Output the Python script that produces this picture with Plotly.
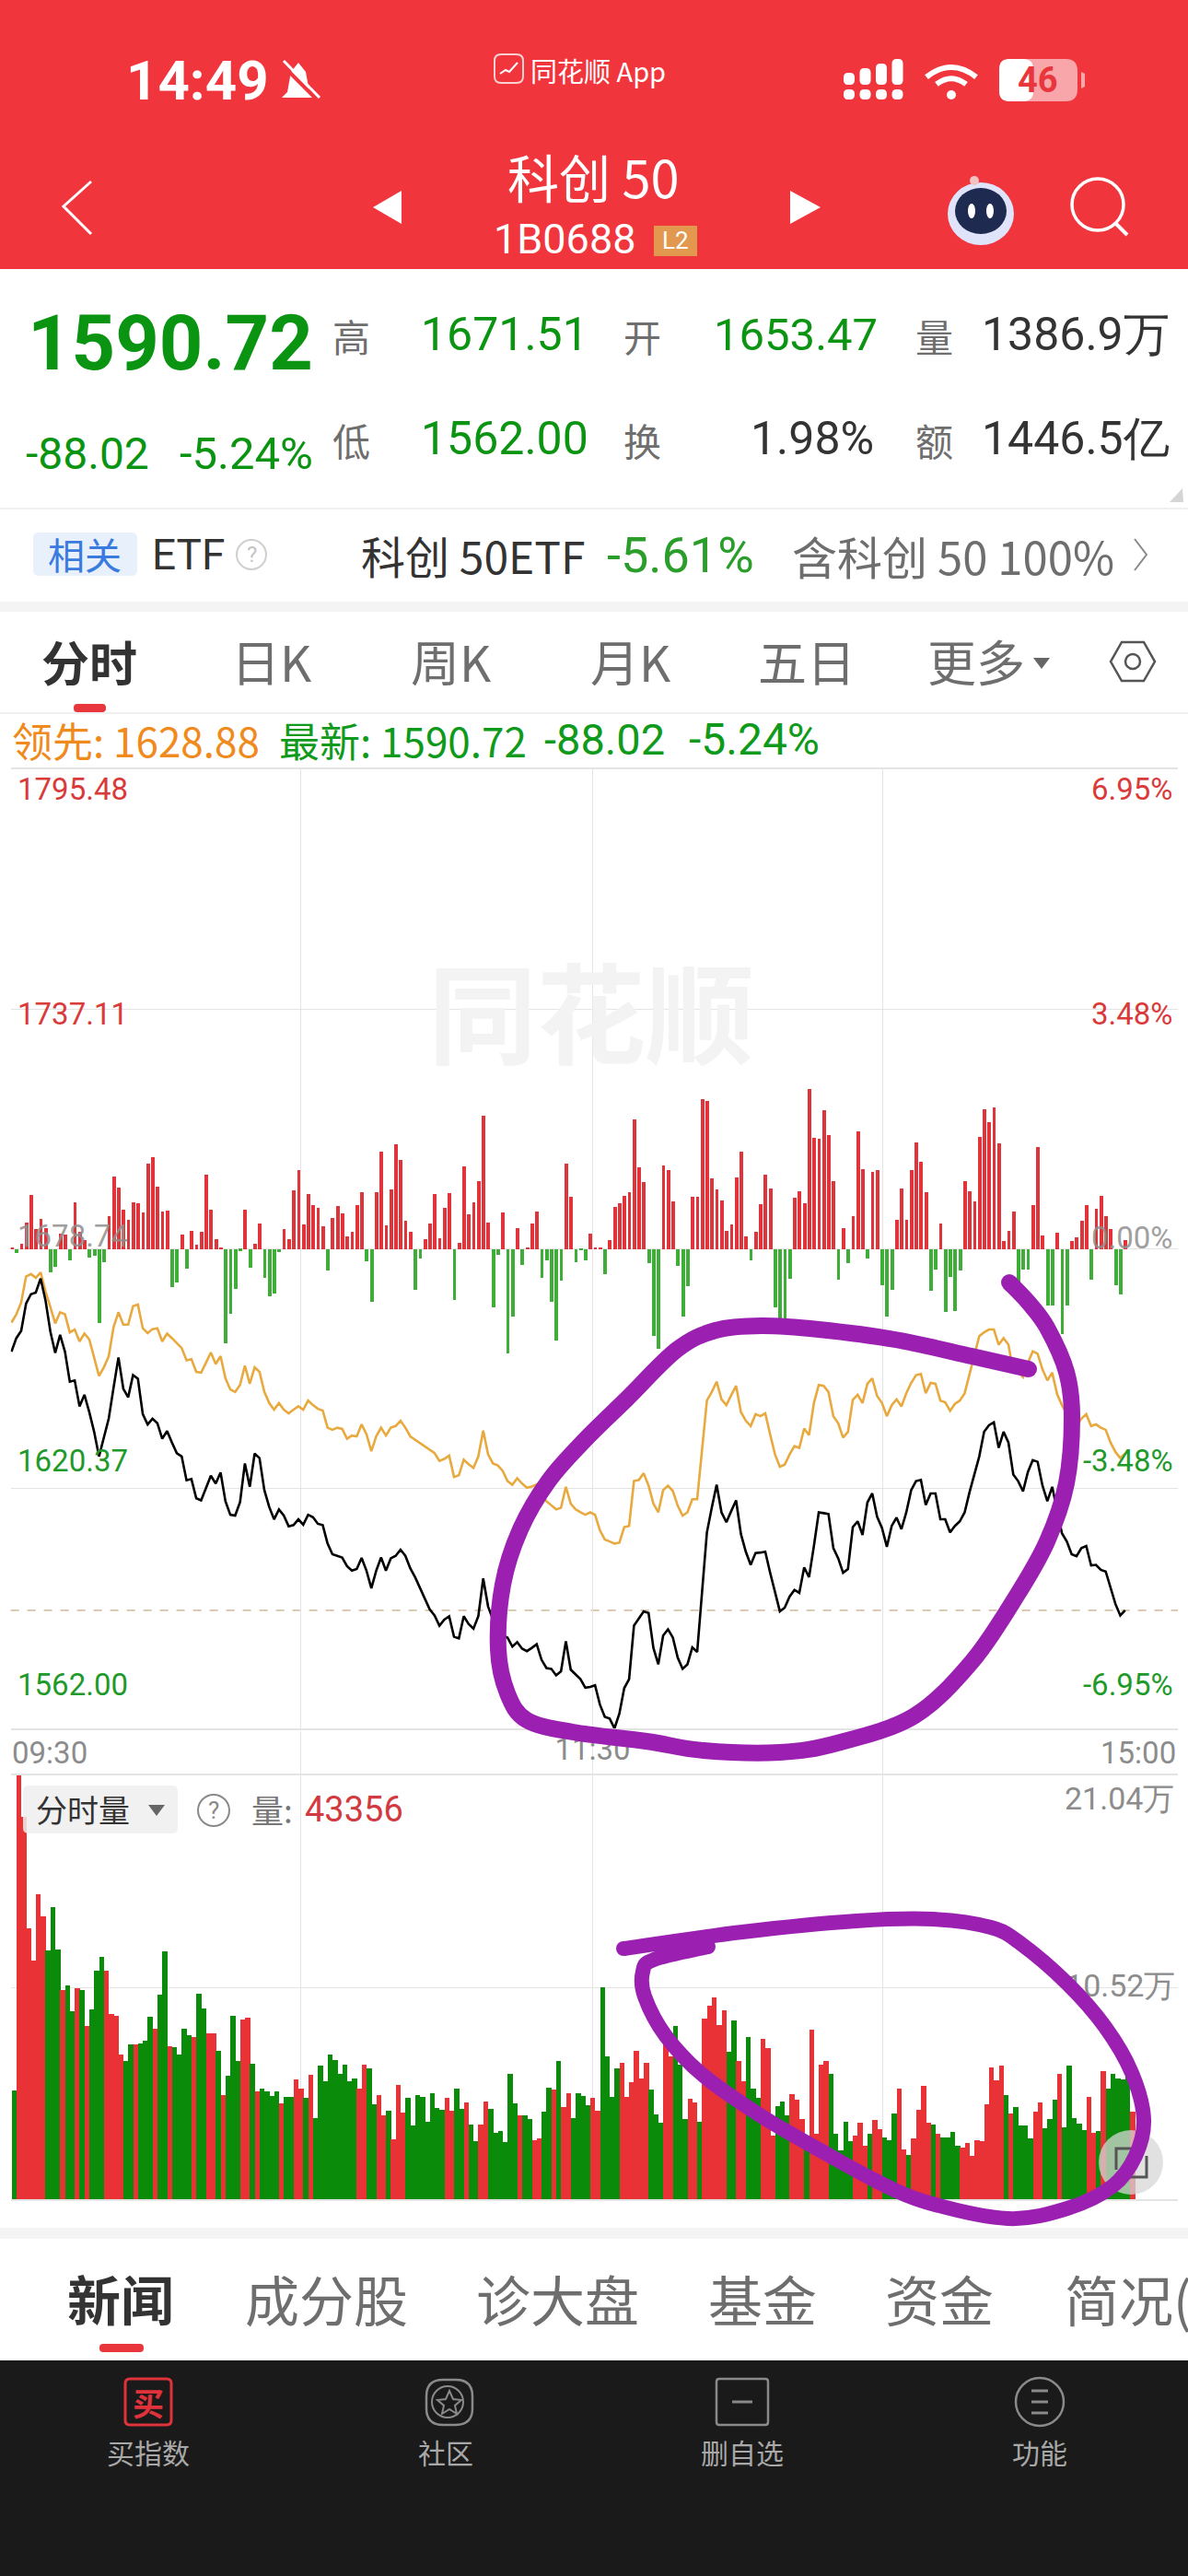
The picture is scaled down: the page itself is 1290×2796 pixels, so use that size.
import plotly.graph_objects as go

# ---- data ----
close_price = [1653.7,1657.0,1658.8,1665.4,1667.7,1668.1,1671.5,1666.2,1658.6,1653.4,1657.8,1653.7,1646.4,1646.7,1640.4,1643.2,1639.0,1634.2,1628.2,1632.5,
1637.4,1645.0,1652.3,1644.7,1642.6,1648.0,1647.1,1638.5,1636.0,1637.4,1636.3,1632.5,1634.4,1631.6,1629.0,1628.2,1622.4,1622.7,1618.0,1617.5,
1620.6,1623.5,1621.6,1624.3,1617.3,1614.0,1613.8,1617.1,1626.5,1620.8,1628.9,1627.8,1620.0,1615.9,1612.9,1615.3,1613.8,1611.2,1611.5,1612.9,
1611.6,1614.0,1613.4,1611.8,1611.5,1607.0,1604.4,1604.0,1603.6,1601.5,1600.4,1600.8,1603.5,1600.4,1596.1,1600.4,1603.6,1600.4,1603.4,1604.0,
1605.5,1604.0,1601.0,1598.8,1596.1,1593.6,1591.0,1589.5,1587.0,1588.5,1589.3,1584.3,1583.9,1589.3,1587.4,1586.3,1589.3,1598.5,1591.7,1588.5,
1585.7,1584.6,1584.1,1581.9,1583.0,1581.4,1580.8,1581.6,1582.5,1578.7,1576.7,1576.5,1574.9,1575.9,1583.2,1576.3,1575.1,1574.0,1571.9,1572.1,
1572.5,1567.8,1564.8,1564.4,1562.0,1565.6,1571.8,1574.0,1587.0,1588.8,1590.5,1590.1,1581.6,1577.6,1584.6,1586.1,1584.1,1579.2,1576.5,1577.6,
1581.7,1580.6,1595.5,1609.7,1615.7,1621.3,1614.6,1612.2,1614.9,1617.5,1609.3,1605.0,1601.8,1604.7,1604.8,1605.0,1599.9,1595.0,1590.5,1591.4,
1594.1,1595.7,1595.0,1601.2,1598.8,1606.4,1614.6,1614.4,1614.2,1605.9,1603.4,1599.9,1600.8,1611.0,1612.4,1609.1,1617.0,1619.2,1613.5,1610.8,
1606.2,1611.3,1613.3,1610.5,1614.6,1620.0,1622.2,1622.5,1616.4,1619.2,1619.2,1612.9,1612.9,1609.7,1611.3,1612.4,1614.6,1619.5,1623.8,1628.2,
1634.2,1635.8,1636.5,1630.3,1634.2,1631.6,1623.8,1622.2,1619.7,1624.4,1627.3,1626.9,1621.1,1617.3,1620.8,1615.1,1609.5,1607.5,1604.4,1603.9,
1605.9,1606.4,1601.7,1601.8,1600.6,1600.2,1596.1,1592.3,1589.5,1590.72]

lead_price = [1660.8,1662.8,1665.7,1672.0,1672.6,1671.7,1673.0,1668.4,1664.6,1660.6,1663.3,1662.8,1658.4,1659.1,1656.2,1658.1,1656.7,1652.1,1647.8,1649.9,
1652.6,1659.7,1663.3,1660.3,1660.3,1664.8,1665.2,1659.4,1658.2,1659.2,1659.4,1656.2,1658.1,1657.0,1655.7,1654.6,1651.6,1651.9,1648.8,1648.6,
1651.0,1653.5,1650.7,1652.6,1647.2,1644.5,1643.9,1645.6,1650.3,1645.9,1649.9,1648.8,1643.9,1641.2,1639.6,1641.2,1639.6,1638.7,1639.6,1640.4,
1639.6,1641.8,1640.7,1639.8,1639.4,1635.2,1634.7,1635.2,1634.9,1632.5,1633.3,1633.1,1636.0,1633.6,1629.5,1633.1,1635.2,1633.3,1635.2,1635.6,
1636.9,1635.2,1633.1,1632.3,1631.4,1630.6,1629.8,1629.0,1627.1,1627.6,1628.4,1623.2,1623.6,1627.4,1626.3,1625.4,1628.2,1634.5,1628.7,1626.5,
1626.0,1624.7,1622.2,1621.3,1622.9,1621.6,1620.6,1620.9,1621.4,1618.9,1617.3,1616.2,1615.3,1615.7,1620.8,1616.7,1615.3,1614.6,1614.0,1614.6,
1614.0,1610.2,1608.0,1607.5,1607.0,1607.2,1611.0,1611.3,1622.2,1622.5,1624.1,1621.1,1616.7,1614.6,1620.0,1621.1,1619.8,1616.2,1613.8,1614.6,
1617.8,1617.8,1629.8,1641.8,1643.9,1646.4,1642.1,1640.7,1643.1,1645.4,1639.0,1636.9,1635.6,1638.5,1638.0,1638.7,1633.6,1628.7,1625.7,1626.2,
1628.7,1630.7,1630.3,1635.0,1633.4,1641.2,1645.6,1645.4,1643.9,1638.0,1636.3,1632.8,1634.2,1642.0,1643.2,1641.2,1645.9,1647.2,1642.9,1641.2,
1638.0,1640.7,1642.1,1640.4,1643.6,1646.1,1648.0,1648.3,1643.6,1646.1,1645.9,1641.8,1641.4,1639.3,1641.0,1641.8,1643.6,1648.3,1653.2,1657.5,
1658.4,1659.1,1659.1,1655.4,1657.0,1655.4,1648.8,1648.8,1647.5,1651.0,1653.8,1653.2,1649.4,1646.7,1648.6,1643.4,1640.7,1638.5,1635.8,1635.6,
1637.4,1638.5,1635.6,1636.0,1635.2,1634.7,1631.6,1629.3,1627.8,1628.88]

net_flow = [3,-8,12,60,122,45,68,48,-52,-40,35,32,-25,105,40,20,-18,-15,-165,-28,
75,162,138,88,65,105,103,82,192,206,140,85,87,-85,-75,33,-43,42,10,40,
167,88,22,5,-210,-145,-88,-4,88,-42,12,57,-65,-105,-100,-6,45,22,133,177,
55,123,98,93,52,-48,70,97,80,29,40,98,127,-26,-118,128,218,53,135,235,
200,63,40,-90,-20,22,58,123,25,92,125,-113,15,185,78,105,152,300,59,-130,
-12,82,-233,-150,48,-35,5,57,85,-63,-25,-118,-205,-70,192,118,-28,-3,-25,35,
3,3,-55,20,95,103,120,128,290,183,150,-30,-195,-222,187,177,108,-38,-150,-82,
118,118,337,333,158,135,110,42,55,160,218,28,-25,40,102,167,137,-130,-175,-170,
-67,115,130,103,360,250,248,312,255,153,-68,47,-30,75,265,180,-20,173,178,-80,
-150,-90,67,137,67,177,240,197,127,-92,-45,57,-140,-62,-138,-48,153,130,107,252,
313,285,317,237,18,42,85,-112,-45,-45,100,230,30,-125,-125,38,-190,-125,18,27,
63,100,-68,90,120,75,45,-80,-102,20]

volume_wan = [5.39,21.04,18.98,13.43,11.84,15.15,14.02,12.33,14.52,12.41,10.38,10.61,9.32,10.49,10.38,8.60,9.42,11.36,12.03,11.36,
9.20,9.09,7.19,6.88,7.67,7.67,7.72,7.87,9.04,8.48,10.15,12.29,7.61,7.55,7.16,8.48,8.14,8.07,10.20,9.47,
8.25,8.25,7.38,5.15,6.12,9.09,6.85,8.94,9.01,6.73,5.33,5.48,5.36,5.13,5.33,4.75,5.10,5.10,5.94,5.51,
5.05,6.17,4.02,6.64,5.85,7.19,6.91,6.24,6.67,5.85,5.97,5.48,6.70,6.50,4.70,5.15,4.14,4.37,2.97,5.69,
4.29,5.02,3.68,5.15,5.10,3.84,5.24,4.52,4.45,5.01,4.37,5.50,4.48,4.81,3.71,2.89,3.71,4.86,4.48,3.30,
3.38,2.85,6.20,4.75,4.14,4.17,3.96,2.95,3.04,4.35,5.54,5.43,6.87,4.57,5.24,4.03,5.28,5.13,4.67,5.04,
4.37,10.54,7.08,5.08,6.50,6.76,5.08,5.79,7.37,6.01,6.76,5.45,4.23,3.81,7.69,7.11,8.59,6.70,3.99,4.98,
4.80,3.84,8.98,9.62,10.00,8.63,9.39,7.34,8.86,6.85,5.85,8.05,5.47,5.05,7.95,7.52,3.15,4.63,4.84,4.14,
5.21,4.93,3.99,3.15,8.43,3.23,6.70,6.88,6.24,3.26,2.42,3.84,2.88,3.15,3.81,2.65,3.26,3.93,3.46,3.08,
2.92,4.26,5.51,2.47,2.19,3.04,4.45,5.63,3.81,3.71,3.23,3.08,3.08,3.33,2.65,2.54,2.80,2.16,2.92,2.89,
4.72,6.53,5.89,6.61,5.18,4.26,4.57,3.65,3.65,3.04,4.35,4.78,3.53,3.96,4.93,6.23,3.59,6.61,4.02,3.75,
3.44,5.10,3.30,3.38,6.38,5.48,6.23,6.00,5.94,6.35,4.35]

volume_dir = ("G RRRRRR GGG R GG R G R GGG RRRR GG R GGG R GG R GGGG R GG RR G R GGG RR G R GGGG R GG RR G R "
              "GGGGGGGGG RR GG RR G RRR GGGGGGGG RR GG R GG RR GGGGGG R GG RR GG R G RR GGGG RR GGGG RRRRRR GGG RR GGG RR G "
              "RRRRR GG RR GGG RRR GGG RRR G RRRR GGGGG RRR G RR GGG RR G RRRR G R GGGG RRRRRRRRR G R GGGG RR GGG R GGGGG RR G R GGGGG R").replace(" ", "")

price_ticks_left = ["1795.48", "1737.11", "1678.74", "1620.37", "1562.00"]
price_ticks_right = ["6.95%", "3.48%", "0.00%", "-3.48%", "-6.95%"]
price_tick_vals = [1795.48, 1737.11, 1678.74, 1620.37, 1562.00]
time_labels = ["09:30", "11:30", "15:00"]
vol_labels = ["21.04万", "10.52万"]

# ---- canvas helpers (pixels on the 1290x2796 page) ----
W, H = 1290, 2796
CJK = "Noto Sans CJK SC"
NUM = "Roboto"
RED, TXT, GRY = "#e8363c", "#333333", "#6e6e6e"
fx = lambda x: x / W
fy = lambda y: 1 - y / H
shapes, notes = [], []

def text(x, y, s, size, color, anchor="left", family=CJK, bold=False, opacity=1):
    notes.append(dict(x=fx(x), y=fy(y), xref="paper", yref="paper", text=f"<b>{s}</b>" if bold else s,
                      showarrow=False, xanchor=anchor, yanchor="middle", borderpad=0, opacity=opacity,
                      font=dict(size=size, color=color, family=family)))

def rect(x0, y0, x1, y1, fill, line=None, lw=0, layer="below"):
    shapes.append(dict(type="rect", xref="paper", yref="paper", x0=fx(x0), x1=fx(x1), y0=fy(y0), y1=fy(y1),
                       fillcolor=fill, line=dict(color=line or fill, width=lw), layer=layer))

def oval(cx, cy, rx, ry, fill="rgba(0,0,0,0)", line=None, lw=0, layer="above", opacity=1):
    shapes.append(dict(type="circle", xref="paper", yref="paper", x0=fx(cx-rx), x1=fx(cx+rx), y0=fy(cy-ry), y1=fy(cy+ry),
                       fillcolor=fill, line=dict(color=line or "rgba(0,0,0,0)", width=lw), layer=layer, opacity=opacity))

def poly(pts, fill=None, line=None, lw=0, closed=False, layer="above"):
    d = "M" + " L".join(f"{fx(x):.5f},{fy(y):.5f}" for x, y in pts) + (" Z" if closed else "")
    shapes.append(dict(type="path", xref="paper", yref="paper", path=d, fillcolor=fill or "rgba(0,0,0,0)",
                       line=dict(color=line or "rgba(0,0,0,0)", width=lw), layer=layer))

def rrect(x0, y0, x1, y1, r, fill=None, line=None, lw=0, layer="below"):
    c = lambda x, y: f"{fx(x):.5f},{fy(y):.5f}"
    d = (f"M{c(x0+r,y0)} L{c(x1-r,y0)} Q{c(x1,y0)} {c(x1,y0+r)} L{c(x1,y1-r)} Q{c(x1,y1)} {c(x1-r,y1)} "
         f"L{c(x0+r,y1)} Q{c(x0,y1)} {c(x0,y1-r)} L{c(x0,y0+r)} Q{c(x0,y0)} {c(x0+r,y0)} Z")
    shapes.append(dict(type="path", xref="paper", yref="paper", path=d, fillcolor=fill or "rgba(0,0,0,0)",
                       line=dict(color=line or "rgba(0,0,0,0)", width=lw), layer=layer))

def stroke(pts, color, lw):
    c = lambda p: f"{fx(p[0]):.5f},{fy(p[1]):.5f}"
    d = "M" + c(pts[0])
    for i in range(len(pts) - 1):
        p0, p1, p2, p3 = pts[max(i-1, 0)], pts[i], pts[i+1], pts[min(i+2, len(pts)-1)]
        a = (p1[0] + (p2[0]-p0[0])/6, p1[1] + (p2[1]-p0[1])/6)
        b = (p2[0] - (p3[0]-p1[0])/6, p2[1] - (p3[1]-p1[1])/6)
        d += f" C{c(a)} {c(b)} {c(p2)}"
    shapes.append(dict(type="path", xref="paper", yref="paper", path=d, fillcolor="rgba(0,0,0,0)",
                       line=dict(color=color, width=lw), layer="above"))
    for p in (pts[0], pts[-1]):
        oval(p[0], p[1], lw/2, lw/2, fill=color)

# ---- chart frame in pixels ----
X0, X1 = 11.6, 1279
PT, PB, VT, VB = 835, 1876, 1927, 2387

fig = go.Figure()
xs = list(range(len(close_price)))
fig.add_trace(go.Bar(x=list(range(len(net_flow))), y=net_flow, xaxis="x", yaxis="y2", width=0.72,
                     marker=dict(color=["#e0343a" if v > 0 else "#3fae38" for v in net_flow], line_width=0), showlegend=False))
fig.add_trace(go.Scatter(x=xs, y=lead_price, mode="lines", xaxis="x", yaxis="y", line=dict(color="#e8a93f", width=2.6), showlegend=False))
fig.add_trace(go.Scatter(x=xs, y=close_price, mode="lines", xaxis="x", yaxis="y", line=dict(color="#000000", width=2.6), showlegend=False))
fig.add_trace(go.Bar(x=list(range(len(volume_wan))), y=volume_wan, xaxis="x2", yaxis="y3", width=1.04,
                     marker=dict(color=["#e83236" if d == "R" else "#0a8c0a" for d in volume_dir], line_width=0), showlegend=False))
# labels that the purple pen runs over: text traces sit under the upper shape layer
fig.add_trace(go.Scatter(x=[119.5], y=[0.5], mode="text", text=[time_labels[1]], xaxis="x", yaxis="y4", cliponaxis=False,
                         textposition="middle center", textfont=dict(size=33, color="#8c8c8c", family=NUM), showlegend=False))
fig.add_trace(go.Scatter(x=[238.9], y=[10.43], mode="text", text=[vol_labels[1]], xaxis="x2", yaxis="y3", cliponaxis=False,
                         textposition="middle left", textfont=dict(size=34, color="#8c8c8c", family=NUM), showlegend=False))

grid = "#e4e4e4"
base_x = dict(showticklabels=False, ticks="", showgrid=True, gridcolor=grid, gridwidth=1, showline=True, linecolor=grid,
              linewidth=1.5, mirror=True, zeroline=False, domain=[fx(X0), fx(X1)])
fig.update_layout(
    width=W, height=H, margin=dict(l=0, r=0, t=0, b=0), paper_bgcolor="#ffffff", plot_bgcolor="rgba(0,0,0,0)",
    bargap=0, barmode="overlay", hovermode=False,
    xaxis=dict(base_x, range=[-0.16, 239.84], tickvals=[59.46, 119.46, 179.2], anchor="y"),
    yaxis=dict(domain=[fy(PB), fy(PT)], range=[1562.0, 1795.48], tickvals=price_tick_vals, showticklabels=False, ticks="",
               showgrid=True, gridcolor=grid, showline=False, zeroline=False, anchor="x"),
    yaxis2=dict(domain=[fy(PB), fy(PT)], range=[-1073, 1075], overlaying="y", showticklabels=False, ticks="",
                showgrid=False, zeroline=False, anchor="x"),
    xaxis2=dict(base_x, range=[-0.62, 239.38], tickvals=[59.0, 119.0, 178.74], anchor="y3"),
    yaxis3=dict(domain=[fy(VB), fy(VT)], range=[0, 21.04], tickvals=[10.52], showticklabels=False, ticks="",
                showgrid=True, gridcolor=grid, showline=False, zeroline=False, anchor="x2"),
    yaxis4=dict(domain=[fy(1925), fy(1879)], range=[0, 1], visible=False, anchor="x"),
)

# last price dashed reference
fig.add_shape(type="line", xref="x domain", yref="y", x0=0, x1=1, y0=close_price[-1], y1=close_price[-1],
              line=dict(color="#c9ab86", width=1.2, dash="dash"), layer="below")

# ---- header ----
rect(0, 0, W, 292, "#f0353d")
text(136, 87, "14:49", 60, "#ffffff", family=NUM, bold=True)
# bell
poly([(312, 100), (316, 78), (324, 68), (332, 78), (336, 100), (342, 106), (306, 106)], fill="#ffffff", closed=True)
poly([(304, 68), (346, 110)], line="#f0353d", lw=4)
poly([(308, 66), (347, 106)], line="#ffffff", lw=3)
rrect(537, 59, 568, 90, 7, fill="#f0353d", line="#fbd0d0", lw=2, layer="above")
poly([(543, 80), (549, 76), (553, 78), (562, 68)], line="#ffffff", lw=2)
text(575, 76, "同花顺 App", 29, "#ffffff")
for i, top in enumerate([79, 74, 69, 64]):
    bx = 922 + i * 17.5
    rrect(bx - 6, top, bx + 6, 92, 5, fill="#ffffff", layer="above")
    rrect(bx - 6, 97, bx + 6, 108, 5, fill="#ffffff", layer="above")
oval(1033, 103, 5, 5, fill="#ffffff")
for r in (16, 27):
    c = lambda x, y: f"{fx(x):.5f},{fy(y):.5f}"
    shapes.append(dict(type="path", xref="paper", yref="paper", layer="above", fillcolor="rgba(0,0,0,0)",
                       line=dict(color="#ffffff", width=6),
                       path=f"M{c(1033-r, 103-r*0.72)} Q{c(1033, 103-r*1.5)} {c(1033+r, 103-r*0.72)}"))
rrect(1085, 64, 1170, 110, 13, fill="#f8a6aa", layer="above")
rrect(1085, 64, 1122, 110, 11, fill="#ffffff", layer="above")
poly([(1174, 78), (1178, 80), (1178, 94), (1174, 96)], fill="#f8a6aa", closed=True)
text(1127, 87, "46", 38, "#e8363c", "center", NUM, True)

poly([(99, 197), (69, 224), (99, 254)], line="#ffffff", lw=3)
poly([(436, 207), (405, 225), (436, 243)], fill="#ffffff", closed=True)
poly([(858, 207), (891, 225), (858, 243)], fill="#ffffff", closed=True)
text(644, 191, "科创 50", 56, "#ffffff", "center")
text(535, 260, "1B0688", 45, "#ffffff", family=NUM)
rect(710, 245, 757, 278, "#e2994f", layer="above")
text(733, 261, "L2", 26, "#ffffff", "center", NUM)
# robot
oval(1065, 232, 36, 34, fill="#dfe4fb")
oval(1065, 229, 28, 25, fill="#1e2a50")
oval(1055, 229, 4, 8, fill="#ffffff")
oval(1075, 229, 4, 8, fill="#ffffff")
oval(1058, 196, 5, 5, fill="#f2c1c1")
# search
oval(1192, 222, 28, 28, line="#ffffff", lw=3.5)
poly([(1212, 243), (1224, 255)], line="#ffffff", lw=4)

# ---- quote block ----
GREEN_TXT = "#0a9412"
text(29, 372, "1590.72", 83, GREEN_TXT, family=NUM, bold=True)
text(27, 492, "-88.02", 48, GREEN_TXT, family=NUM)
text(194, 492, "-5.24%", 49, GREEN_TXT, family=NUM)
for x, y, s in [(360, 364, "高"), (676, 364, "开"), (993, 364, "量"), (360, 477, "低"), (676, 477, "换"), (993, 477, "额")]:
    text(x, y, s, 41, GRY)
text(456, 363, "1671.51", 50, GREEN_TXT, family=NUM)
text(774, 363, "1653.47", 49, GREEN_TXT, family=NUM)
text(456, 476, "1562.00", 50, GREEN_TXT, family=NUM)
text(950, 476, "1.98%", 50, TXT, "right", NUM)
text(1065, 363, "1386.9万", 50, TXT, family=NUM)
text(1065, 476, "1446.5亿", 50, TXT, family=NUM)
poly([(1284, 530), (1270, 545), (1285, 545)], fill="#d5d5d5", closed=True)
rect(0, 551, W, 553, "#efefef")

# ---- ETF row ----
rrect(36, 578, 149, 625, 6, fill="#e8f0fb")
text(92, 601, "相关", 40, "#3a7be0", "center")
text(164, 602, "ETF", 46, TXT, family=NUM)
oval(273, 602, 16, 16, line="#cfcfcf", lw=2)
text(273, 602, "?", 24, "#c4c4c4", "center", NUM)
text(391, 602, "科创 50ETF", 48, TXT)
text(658, 602, "-5.61%", 54, "#2a9d2a", family=NUM)
text(859, 602, "含科创 50 100%", 49, GRY)
poly([(1232, 585), (1245, 602), (1232, 619)], line="#888888", lw=2)
rect(0, 653, W, 664, "#f4f4f4")

# ---- tabs ----
text(97, 717, "分时", 52, TXT, "center", bold=True)
for cx, s in [(295, "日K"), (490, "周K"), (685, "月K"), (876, "五日"), (1060, "更多")]:
    text(cx, 717, s, 53, GRY, "center")
poly([(1122, 714), (1140, 714), (1131, 726)], fill="#666666", closed=True)
poly([(1206, 718), (1218, 697), (1242, 697), (1254, 718), (1242, 739), (1218, 739)], line="#555555", lw=2.5, closed=True)
oval(1230, 718, 8, 8, line="#555555", lw=2.5)
rrect(80, 764, 115, 773, 4, fill=RED)
rect(0, 773, W, 775, "#efefef")

# ---- legend line ----
text(12, 803, "领先: 1628.88", 44, "#f08a1d")
text(302, 803, "最新: 1590.72", 44, "#0f9a1c")
text(590, 803, "-88.02", 47, "#0f9a1c", family=NUM)
text(747, 803, "-5.24%", 48, "#0f9a1c", family=NUM)

# ---- watermark ----
text(642, 1094, "同花顺", 118, "#f3f3f3", "center", bold=True)

# ---- axis labels ----
left_colors = ["#d93a3a", "#d93a3a", "#8f8f8f", "#1f9a2a", "#1f9a2a"]
label_y = [856, 1100, 1341, 1585, 1828]
for s, r, col, y in zip(price_ticks_left, price_ticks_right, left_colors, label_y):
    text(18, y, s, 33, col, family=NUM, opacity=0.85 if col == "#8f8f8f" else 1)
    text(1275, y + (2 if r == "0.00%" else 0), r, 33, col, "right", NUM, opacity=0.85 if col == "#8f8f8f" else 1)
text(12, 1902, time_labels[0], 33, "#8c8c8c", family=NUM)
text(1278, 1902, time_labels[2], 33, "#8c8c8c", "right", NUM)

# ---- volume header ----
rrect(25, 1938, 193, 1990, 6, fill="rgba(238,238,238,0.85)", layer="above")
text(38, 1964, "分时量", 34, TXT)
poly([(161, 1959), (179, 1959), (170, 1971)], fill="#666666", closed=True)
oval(232, 1965, 17, 17, line="#8a8a8a", lw=2)
text(232, 1965, "?", 26, "#8a8a8a", "center", NUM)
text(272, 1964, "量:", 35, "#777777")
text(330, 1964, "43356", 38, "#d23a3f", family=NUM)
text(1276, 1952, vol_labels[0], 34, "#8c8c8c", "right", NUM)

# ---- expand button ----
oval(1228, 2347, 35, 35, fill="rgba(215,215,215,0.75)")
poly([(1212, 2355), (1212, 2332), (1235, 2332)], line="#555555", lw=3)
poly([(1245, 2340), (1245, 2363), (1222, 2363)], line="#555555", lw=3)

# ---- hand-drawn purple marks ----
PURPLE = "#9b20b2"
stroke([(1117,1486),(1055,1472),(972,1454),(889,1443),(827,1439),(777,1444),(735,1465),(681,1518),(635,1563),(596,1607),
        (565,1660),(546,1720),(541,1790),(551,1838),(572,1867),(622,1880),(702,1890),(764,1900),(847,1902),
        (909,1892),(992,1863),(1055,1804),(1104,1732),(1137,1673),(1158,1610),(1164,1538),(1158,1489),(1137,1441),(1117,1414),(1096,1392)],
       PURPLE, 18)
stroke([(677,2115),(806,2097),(930,2085),(1013,2083),(1076,2092),(1109,2110),(1159,2153),(1200,2200),(1229,2250),(1242,2300),
        (1233,2340),(1208,2373),(1159,2397),(1094,2408),(1005,2390),(951,2367),(889,2333),(827,2297),(764,2253),(723,2210),
        (700,2167),(698,2140),(710,2127),(769,2113)], PURPLE, 16)

# ---- lower tabs ----
rect(0, 2418, W, 2430, "#f4f4f4")
text(131, 2494, "新闻", 58, TXT, "center", bold=True)
text(354, 2494, "成分股", 59, GRY, "center")
text(605, 2494, "诊大盘", 59, GRY, "center")
text(828, 2494, "基金", 59, GRY, "center")
text(1020, 2494, "资金", 59, GRY, "center")
text(1155, 2494, "简况(", 59, GRY)
rrect(108, 2544, 156, 2553, 4, fill=RED)

# ---- bottom bar ----
rect(0, 2562, W, H, "#1a1a1a", layer="above")
rrect(136, 2582, 186, 2632, 5, line="#e0323a", lw=3, layer="above")
text(161, 2607, "买", 34, "#e0323a", "center", bold=True)
# community icon: star in a rounded badge with a side arc
rrect(463, 2583, 513, 2632, 18, line="#8a8a8a", lw=2.5, layer="above")
oval(486, 2607, 17, 17, line="#8a8a8a", lw=2)
poly([(488, 2595), (492, 2604), (501, 2605), (494, 2611), (496, 2620), (488, 2615), (480, 2620), (482, 2611), (475, 2605), (484, 2604)],
     line="#8a8a8a", lw=2, closed=True)
rrect(778, 2582, 834, 2632, 3, line="#8a8a8a", lw=2.5, layer="above")
poly([(795, 2607), (817, 2607)], line="#8a8a8a", lw=3)
oval(1129, 2607, 26, 26, line="#8a8a8a", lw=2.5)
for dy in (-12, 0, 12):
    poly([(1120, 2607 + dy), (1138, 2607 + dy)], line="#8a8a8a", lw=3)
for cx, s in [(161, "买指数"), (484, "社区"), (806, "删自选"), (1129, "功能")]:
    text(cx, 2661, s, 30, "#a8a8a8", "center")

fig.update_layout(shapes=list(fig.layout.shapes) + shapes, annotations=notes)
fig.write_html("out.html", config=dict(displayModeBar=False),
               post_script="document.body.style.margin='0';document.body.style.overflow='hidden';")
